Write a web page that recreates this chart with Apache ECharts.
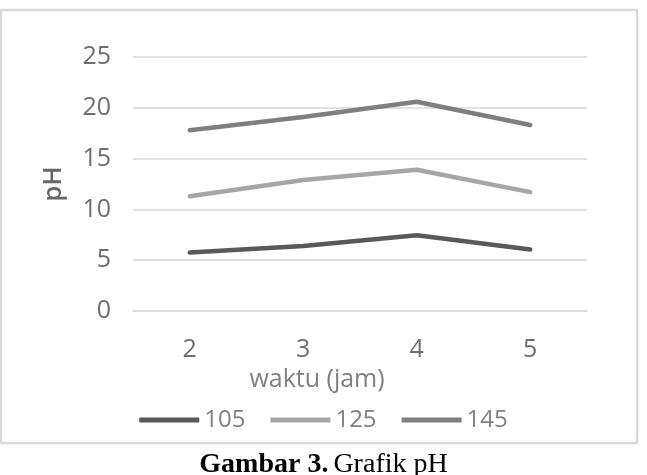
<!DOCTYPE html>
<html>
<head>
<meta charset="utf-8">
<script src="https://cdn.jsdelivr.net/npm/echarts@6/dist/echarts.min.js"></script>
<style>
  html, body { margin: 0; padding: 0; background: #fff; }
  #chart { width: 647px; height: 475px; }
</style>
</head>
<body>
<div id="chart"></div>
<script>
// waktu (jam)
const categories = ['2', '3', '4', '5']
const seriesNames = ['105', '125', '145']
const ph105 = [5.75, 6.4, 7.45, 6.05]
const ph125 = [11.3, 12.9, 13.9, 11.7]
const ph145 = [17.8, 19.1, 20.6, 18.3]
const colors = ['#595959', '#a6a6a6', '#7f7f7f']

const chart = echarts.init(document.getElementById('chart'))
const font = '"Open Sans", "Noto Sans", sans-serif'
const serif = '"Liberation Serif", "Times New Roman", serif'

function lineSeries(name, data, color) {
  return {
    name: name,
    type: 'line',
    data: data,
    symbol: 'none',
    smooth: false,
    itemStyle: { color: color },
    lineStyle: { color: color, width: 4.5, cap: 'round', join: 'round' }
  }
}

chart.setOption({
  animation: false,
  graphic: [
    {
      type: 'rect',
      shape: { x: 1, y: 10, width: 636, height: 433 },
      style: { fill: '#fff', stroke: '#d4d4d4', lineWidth: 1.5, shadowBlur: 3, shadowColor: 'rgba(0,0,0,0.12)' },
      z: -10
    }
  ],
  title: {
    text: '{b|Gambar 3.} {n|Grafik pH}',
    left: 'center',
    top: 446,
    textStyle: {
      fontWeight: 'normal',
      rich: {
        b: { fontFamily: serif, fontWeight: 'bold', fontSize: 28, color: '#000' },
        n: { fontFamily: serif, fontWeight: 'normal', fontSize: 28, color: '#000' }
      }
    }
  },
  legend: {
    data: seriesNames,
    left: 'center',
    top: 403,
    icon: 'rect',
    itemWidth: 60,
    itemHeight: 5,
    itemGap: 25,
    textStyle: { fontFamily: font, fontSize: 24, color: '#808080' }
  },
  grid: { left: 133, right: 60, top: 57, bottom: 164 },
  xAxis: {
    type: 'category',
    data: categories,
    boundaryGap: true,
    name: 'waktu (jam)',
    nameLocation: 'middle',
    nameGap: 56,
    nameTextStyle: { fontFamily: font, fontSize: 25, color: '#808080', padding: [0, 86, 0, 0] },
    axisLine: { lineStyle: { color: '#d9d9d9', width: 1.5 } },
    axisTick: { show: false },
    axisLabel: { fontFamily: font, fontSize: 25, color: '#6e6e6e', margin: 26 }
  },
  yAxis: {
    type: 'value',
    min: 0,
    max: 25,
    interval: 5,
    name: 'pH',
    nameLocation: 'middle',
    nameGap: 66,
    nameTextStyle: { fontFamily: font, fontSize: 26, fontWeight: 600, color: '#666' },
    axisLine: { show: false },
    axisTick: { show: false },
    axisLabel: { fontFamily: font, fontSize: 25, color: '#6e6e6e', margin: 22 },
    splitLine: { lineStyle: { color: '#d9d9d9', width: 1.5 } }
  },
  series: [
    lineSeries(seriesNames[0], ph105, colors[0]),
    lineSeries(seriesNames[1], ph125, colors[1]),
    lineSeries(seriesNames[2], ph145, colors[2])
  ]
})
</script>
</body>
</html>
